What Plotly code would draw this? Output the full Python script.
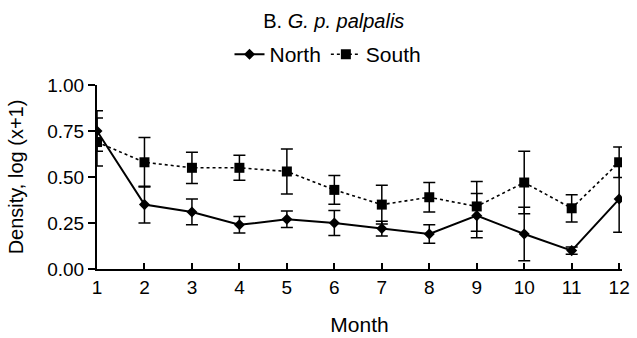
import plotly.graph_objects as go

months = list(range(1, 13))
north = [0.75, 0.35, 0.31, 0.24, 0.27, 0.25, 0.22, 0.19, 0.29, 0.19, 0.10, 0.38]
north_err = [0.11, 0.10, 0.07, 0.045, 0.045, 0.068, 0.04, 0.05, 0.12, 0.145, 0.02, 0.18]
south = [0.69, 0.58, 0.55, 0.55, 0.53, 0.43, 0.35, 0.39, 0.34, 0.47, 0.33, 0.58]
south_err = [0.13, 0.135, 0.085, 0.068, 0.122, 0.078, 0.105, 0.08, 0.135, 0.17, 0.074, 0.083]

font = "Liberation Sans, Arial, sans-serif"

fig = go.Figure()
fig.add_trace(go.Scatter(
    x=months, y=south, name="South", mode="lines+markers",
    line=dict(color="black", width=1.6, dash="dot"),
    marker=dict(symbol="square", size=10, color="black"),
    error_y=dict(type="data", array=south_err, visible=True, color="black", thickness=1.5, width=6),
))
fig.add_trace(go.Scatter(
    x=months, y=north, name="North", mode="lines+markers",
    line=dict(color="black", width=2),
    marker=dict(symbol="diamond", size=8.5, color="black"),
    error_y=dict(type="data", array=north_err, visible=True, color="black", thickness=1.5, width=6),
))

fig.update_layout(
    width=637, height=338,
    margin=dict(l=97, r=15, t=85, b=69, autoexpand=False),
    paper_bgcolor="white", plot_bgcolor="white",
    font=dict(family=font, size=17, color="black"),
    title=dict(text="B. <i>G. p. palpalis</i>", x=0.524, xref="container", xanchor="center",
               y=0.938, yref="container", yanchor="middle", font=dict(size=20, family=font)),
    legend=dict(orientation="h", x=0.44, xref="paper", xanchor="center",
                y=1.165, yanchor="middle", traceorder="reversed",
                font=dict(size=21, family=font)),
    showlegend=True,
)
fig.update_xaxes(
    range=[1, 12.06], tickmode="array", tickvals=months, ticktext=[str(m) for m in months],
    showgrid=False, zeroline=False, showline=True, linecolor="black", linewidth=2,
    ticks="inside", ticklen=6, tickwidth=1.5, tickcolor="black",
    title=dict(text="Month", font=dict(size=21), standoff=21),
    tickfont=dict(size=19), tickangle=0,
)
fig.update_yaxes(
    range=[0, 1.0], tickmode="array", tickvals=[0, 0.25, 0.5, 0.75, 1.0],
    ticktext=["0.00", "0.25", "0.50", "0.75", "1.00"],
    showgrid=False, zeroline=False, showline=True, linecolor="black", linewidth=2,
    ticks="outside", ticklen=7, tickwidth=1.5, tickcolor="black",
    title=dict(text="Density, log (x+1)", font=dict(size=20), standoff=18),
    tickfont=dict(size=19),
)
fig.write_html("out.html")
